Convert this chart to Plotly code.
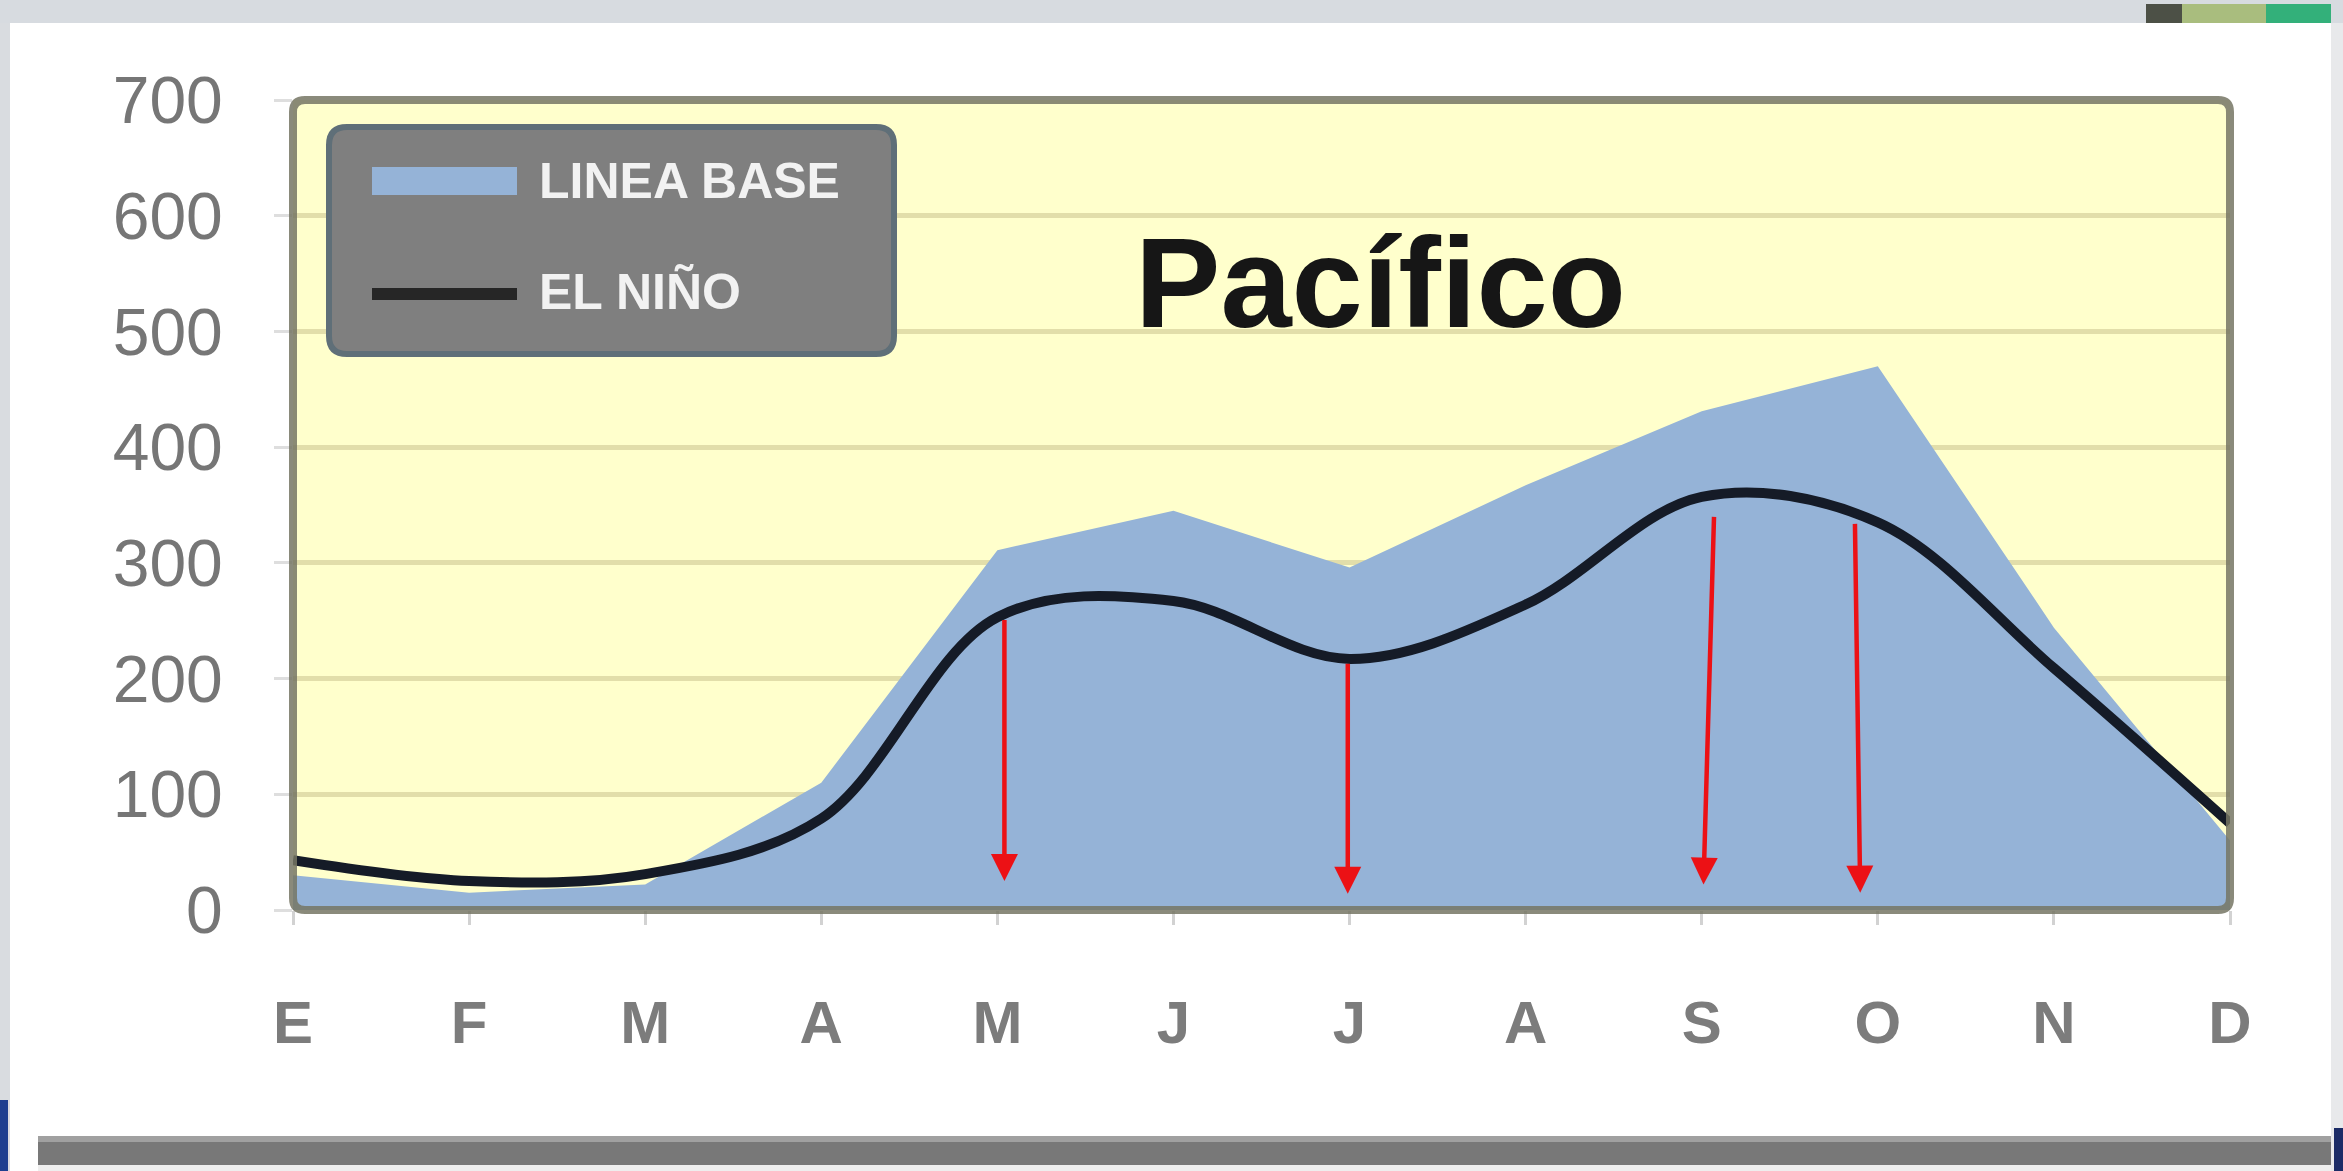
import plotly.graph_objects as go

# Monthly series (mm)
months = ["E", "F", "M", "A", "M", "J", "J", "A", "S", "O", "N", "D"]
linea_base = [30, 15, 22, 110, 311, 345, 296, 367, 431, 470, 244, 60]
el_nino = [43, 25, 31, 79, 253, 267, 217, 264, 357, 335, 209, 75]
y_ticks = [0, 100, 200, 300, 400, 500, 600, 700]

# Red arrows marking the drop under El Niño (tail on the curve, tip near zero)
arrow_tail_x = [4.04, 5.99, 8.07, 8.87]
arrow_tail_y = [252, 214, 341, 335]
arrow_tip_x = [4.04, 5.99, 8.01, 8.90]
arrow_tip_y = [25, 14, 22, 15]

# Page geometry (pixels)
FIG_W, FIG_H = 2343, 1171
PL, PR, PT, PB = 293, 2230, 100, 910
PW, PH = PR - PL, PB - PT


def px(x):
    return (x - PL) / PW


def py(y):
    return (PB - y) / PH


def rounded_rect(x0, y0, x1, y1, r):
    """SVG path (paper units) for a rectangle with rounded corners, input in pixels."""
    pts = [
        f"M{px(x0 + r)},{py(y0)}",
        f"L{px(x1 - r)},{py(y0)}",
        f"Q{px(x1)},{py(y0)} {px(x1)},{py(y0 + r)}",
        f"L{px(x1)},{py(y1 - r)}",
        f"Q{px(x1)},{py(y1)} {px(x1 - r)},{py(y1)}",
        f"L{px(x0 + r)},{py(y1)}",
        f"Q{px(x0)},{py(y1)} {px(x0)},{py(y1 - r)}",
        f"L{px(x0)},{py(y0 + r)}",
        f"Q{px(x0)},{py(y0)} {px(x0 + r)},{py(y0)}",
        "Z",
    ]
    return " ".join(pts)


def rect(x0, y0, x1, y1, color, layer="below"):
    return dict(type="rect", xref="paper", yref="paper",
                x0=px(x0), x1=px(x1), y0=py(y1), y1=py(y0),
                fillcolor=color, line=dict(width=0), layer=layer)


idx = list(range(len(months)))

fig = go.Figure()

fig.add_trace(go.Scatter(
    x=idx, y=linea_base, name="LINEA BASE", mode="lines",
    fill="tozeroy", fillcolor="#95B3D7",
    line=dict(width=0, color="#95B3D7"),
    showlegend=False, hoverinfo="x+y",
))

fig.add_trace(go.Scatter(
    x=idx, y=el_nino, name="EL NIÑO", mode="lines",
    line=dict(color="#151b27", width=10, shape="spline", smoothing=1.0),
    showlegend=False, hoverinfo="x+y",
))

shapes = []

# Window frame around the white card
shapes.append(rect(0, 0, FIG_W, 23, "#d7dbe0"))
shapes.append(rect(2146, 4, 2182, 23, "#4c5046"))
shapes.append(rect(2182, 4, 2266, 23, "#a9bd7e"))
shapes.append(rect(2266, 4, 2331, 23, "#33b07a"))
shapes.append(rect(0, 23, 10, FIG_H, "#d9dce0"))
shapes.append(rect(0, 1100, 8, FIG_H, "#1d3f8f"))
shapes.append(rect(2331, 23, FIG_W, FIG_H, "#e8e9eb"))
shapes.append(rect(2334, 1128, FIG_W, FIG_H, "#1b2b66"))
shapes.append(rect(38, 1136, 2331, 1142, "#a0a0a0"))
shapes.append(rect(38, 1142, 2331, 1165, "#787878"))
shapes.append(rect(38, 1165, 2331, FIG_H, "#eeeeee"))

# Plot frame
shapes.append(dict(type="path", xref="paper", yref="paper",
                   path=rounded_rect(PL, PT, PR, PB, 12),
                   line=dict(color="rgba(118,118,100,0.85)", width=8),
                   fillcolor="rgba(0,0,0,0)", layer="above"))

# Legend panel
LX0, LY0, LX1, LY1 = 329, 127, 894, 354
shapes.append(dict(type="path", xref="paper", yref="paper",
                   path=rounded_rect(LX0, LY0, LX1, LY1, 18),
                   line=dict(color="#5f6f78", width=6),
                   fillcolor="#7f7f7f", layer="above"))
shapes.append(dict(type="line", xref="paper", yref="paper",
                   x0=px(372), x1=px(517), y0=py(181), y1=py(181),
                   line=dict(color="#95B3D7", width=28), layer="above"))
shapes.append(dict(type="line", xref="paper", yref="paper",
                   x0=px(372), x1=px(517), y0=py(294), y1=py(294),
                   line=dict(color="#262626", width=12), layer="above"))

annotations = []
annotations.append(dict(xref="paper", yref="paper", x=px(537), y=py(181),
                        text="<b>LINEA BASE</b>", showarrow=False,
                        xanchor="left", yanchor="middle",
                        font=dict(family="Liberation Sans", size=50, color="#f2f2f2")))
annotations.append(dict(xref="paper", yref="paper", x=px(537), y=py(292),
                        text="<b>EL NIÑO</b>", showarrow=False,
                        xanchor="left", yanchor="middle",
                        font=dict(family="Liberation Sans", size=50, color="#f2f2f2")))

# Title inside the plot
annotations.append(dict(xref="paper", yref="paper", x=px(1380), y=py(282),
                        text="<b>Pacífico</b>", showarrow=False,
                        xanchor="center", yanchor="middle",
                        font=dict(family="Liberation Sans", size=128, color="#161616")))

for tx, ty, hx, hy in zip(arrow_tail_x, arrow_tail_y, arrow_tip_x, arrow_tip_y):
    annotations.append(dict(x=hx, y=hy, ax=tx, ay=ty, xref="x", yref="y",
                            axref="x", ayref="y", text="", showarrow=True,
                            arrowhead=2, arrowsize=1.2, arrowwidth=4.5,
                            arrowcolor="#ec1115"))

fig.update_layout(
    width=FIG_W, height=FIG_H,
    margin=dict(l=PL, r=FIG_W - PR, t=PT, b=FIG_H - PB, pad=0),
    paper_bgcolor="#ffffff",
    plot_bgcolor="#FFFFCC",
    showlegend=False,
    shapes=shapes,
    annotations=annotations,
    font=dict(family="Liberation Sans"),
)

fig.update_xaxes(
    range=[0, 11], tickmode="array", tickvals=idx, ticktext=months,
    showgrid=False, zeroline=False, showline=False,
    ticks="outside", ticklen=14, tickwidth=3, tickcolor="#d2d2d2",
    ticklabelstandoff=46,
    tickfont=dict(family="Liberation Sans", size=60, color="#7c7c7c", weight="bold"),
)

fig.update_yaxes(
    range=[0, 700], tickmode="array", tickvals=y_ticks,
    showgrid=True, gridcolor="#E2DEAA", gridwidth=5,
    zeroline=False, showline=False,
    ticks="outside", ticklen=18, tickwidth=3, tickcolor="#dedede",
    ticklabelstandoff=38,
    tickfont=dict(family="Liberation Sans", size=66, color="#767676"),
)

fig.write_html("out.html", post_script="document.body.style.margin='0';")
